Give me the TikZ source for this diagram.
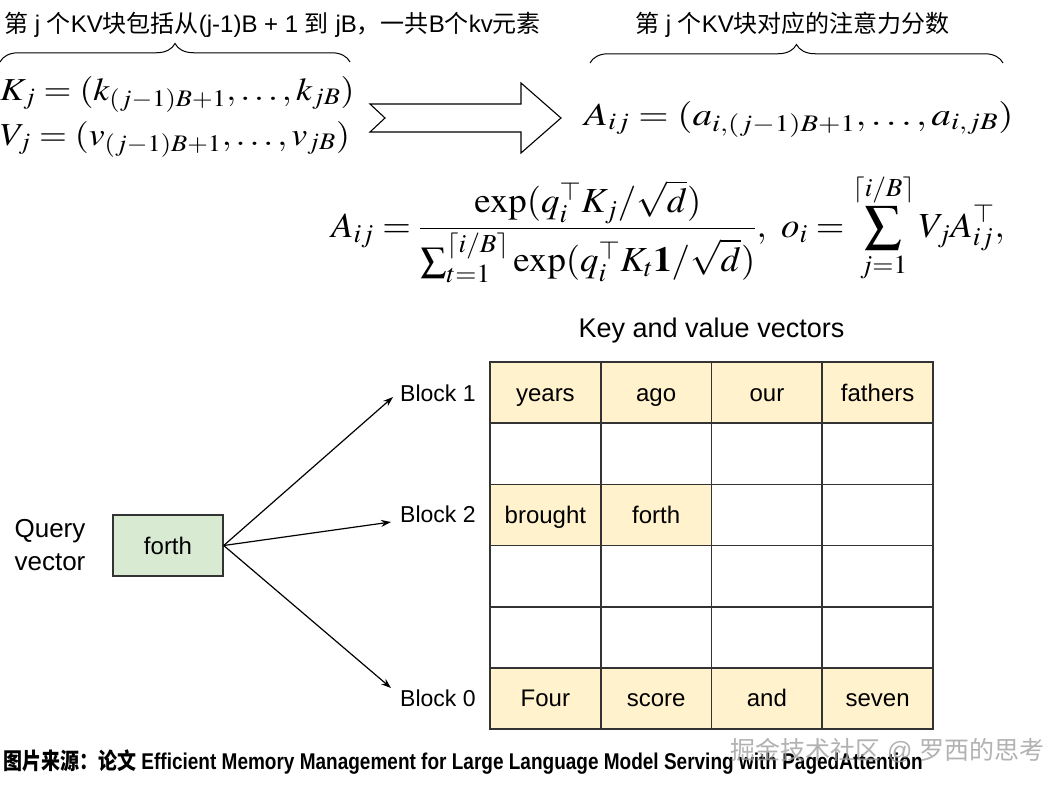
\documentclass[tikz,border=0pt]{standalone}
\usepackage{mathptmx}
\usepackage[no-math]{fontspec}
\usepackage{graphicx}
\setmainfont{Liberation Sans}
\newfontfamily\cjk{Noto Sans CJK SC}
\usetikzlibrary{arrows.meta,decorations.pathreplacing}
\definecolor{keyfill}{HTML}{FFF2CC}
\definecolor{queryfill}{HTML}{D9EAD3}
\definecolor{gridline}{HTML}{333333}
\tikzset{
  cell/.style={draw=gridline, line width=1.6pt, minimum width=110.75pt,
    minimum height=61.17pt, inner sep=0pt, outer sep=0pt,
    font=\fontsize{24}{28}\selectfont, text height=17pt, text depth=0pt},
  keycell/.style={cell, fill=keyfill},
  blocklabel/.style={anchor=west, inner sep=0pt, font=\fontsize{23}{27}\selectfont},
  qarrow/.style={-{Stealth[length=10pt,width=7pt]}, line width=1.2pt},
  bracket/.style={decorate, decoration={brace, amplitude=18.5pt}, line width=1pt},
  eq/.style={inner sep=0pt, font=\fontsize{32}{38}\selectfont},
  heading/.style={anchor=base west, inner sep=0pt, font=\fontsize{24}{28}\selectfont},
}
\begin{document}
\begin{tikzpicture}[x=1pt, y=-1pt]
  \fill[white] (0,0) rectangle (1062,787);
  \useasboundingbox (0,0) rectangle (1062,787);
  % Headings and braces over the formulas.
  \node[heading] (hdrkv) at (4,32) {{\cjk 第} j {\cjk 个}KV{\cjk 块包括从}(j-1)B + 1 {\cjk 到} jB{\cjk ，一共}B{\cjk 个}kv{\cjk 元素}};
  \node[heading] (hdra) at (635,32) {{\cjk 第} j {\cjk 个}KV{\cjk 块对应的注意力分数}};
  \draw[bracket] (0,62) -- (350,62);
  \draw[bracket] (590,63) -- (1003,63);
  % Block formulas.
  \node[eq, anchor=base west] (eqk) at (0,100) {\scalebox{1.12}[1]{$K_j=(k_{(j-1)B+1},\ldots,k_{jB})$}};
  \node[eq, anchor=base west] (eqv) at (0,145) {\scalebox{1.12}[1]{$V_j=(v_{(j-1)B+1},\ldots,v_{jB})$}};
  \node[eq, anchor=base west] (eqa) at (584,125) {\scalebox{1.22}[1]{$A_{ij}=(a_{i,(j-1)B+1},\ldots,a_{i,jB})$}};
  \draw[line width=1.1pt] (370,104) -- (521,104) -- (521,83) -- (561,118)
    -- (521,153) -- (521,132) -- (370,132) -- (385,118) -- cycle;
  \node[eq] (eqo) at (668,228) {\scalebox{1.15}[1.1]{$\displaystyle A_{ij}=\frac{\exp(q_i^\top K_j/\sqrt{d})}{\sum_{t=1}^{\lceil i/B\rceil}\exp(q_i^\top K_t\mathbf{1}/\sqrt{d})},\ o_i=\sum_{j=1}^{\lceil i/B\rceil}V_jA_{ij}^\top,$}};
  % Key and value blocks.
  \node[anchor=base, font=\fontsize{27}{32}\selectfont] (kvtitle) at (711.5,337) {Key and value vectors};
  \foreach \rr in {0,...,5}
    \foreach \cc in {0,...,3}
      \node[cell] (c\rr\cc) at ({545.4+110.75*\cc},{392.6+61.17*\rr}) {};
  \foreach \rr/\cc/\word in {0/0/years, 0/1/ago, 0/2/our, 0/3/fathers,
      2/0/brought, 2/1/forth, 5/0/Four, 5/1/score, 5/2/and, 5/3/seven}
    \node[keycell] (w\rr\cc) at (c\rr\cc) {\word};
  \node[blocklabel] (b1) at (400,393.5) {Block 1};
  \node[blocklabel] (b2) at (400,514) {Block 2};
  \node[blocklabel] (b0) at (400,698.5) {Block 0};
  % Query vector and its lookups.
  \node[align=center, font=\fontsize{26}{33}\selectfont] (qlabel) at (50,545) {Query\\vector};
  \node[draw=gridline, fill=queryfill, line width=1.4pt, minimum width=110pt,
    minimum height=61pt, font=\fontsize{24}{28}\selectfont] (q) at (168,545.5) {forth};
  \draw[qarrow] (q.east) -- ([xshift=-7pt,yshift=-3.5pt]b1.west);
  \draw[qarrow] (q.east) -- ([xshift=-9pt,yshift=-8pt]b2.west);
  \draw[qarrow] (q.east) -- ([xshift=-9pt,yshift=10.5pt]b0.west);
  % Source line and watermark.
  \node[anchor=base west, inner sep=0pt, font=\bfseries\fontsize{19}{22}\selectfont] (src) at (3,769)
    {\scalebox{1}[1.2]{{\cjk 图片来源：论文} Efficient Memory Management for Large Language Model Serving with PagedAttention}};
  \node[anchor=base west, inner sep=0pt, text=gray!75, opacity=0.8, font=\fontsize{25}{30}\selectfont] (mark) at (730,759)
    {{\cjk 掘金技术社区} @ {\cjk 罗西的思考}};
\end{tikzpicture}
\end{document}
